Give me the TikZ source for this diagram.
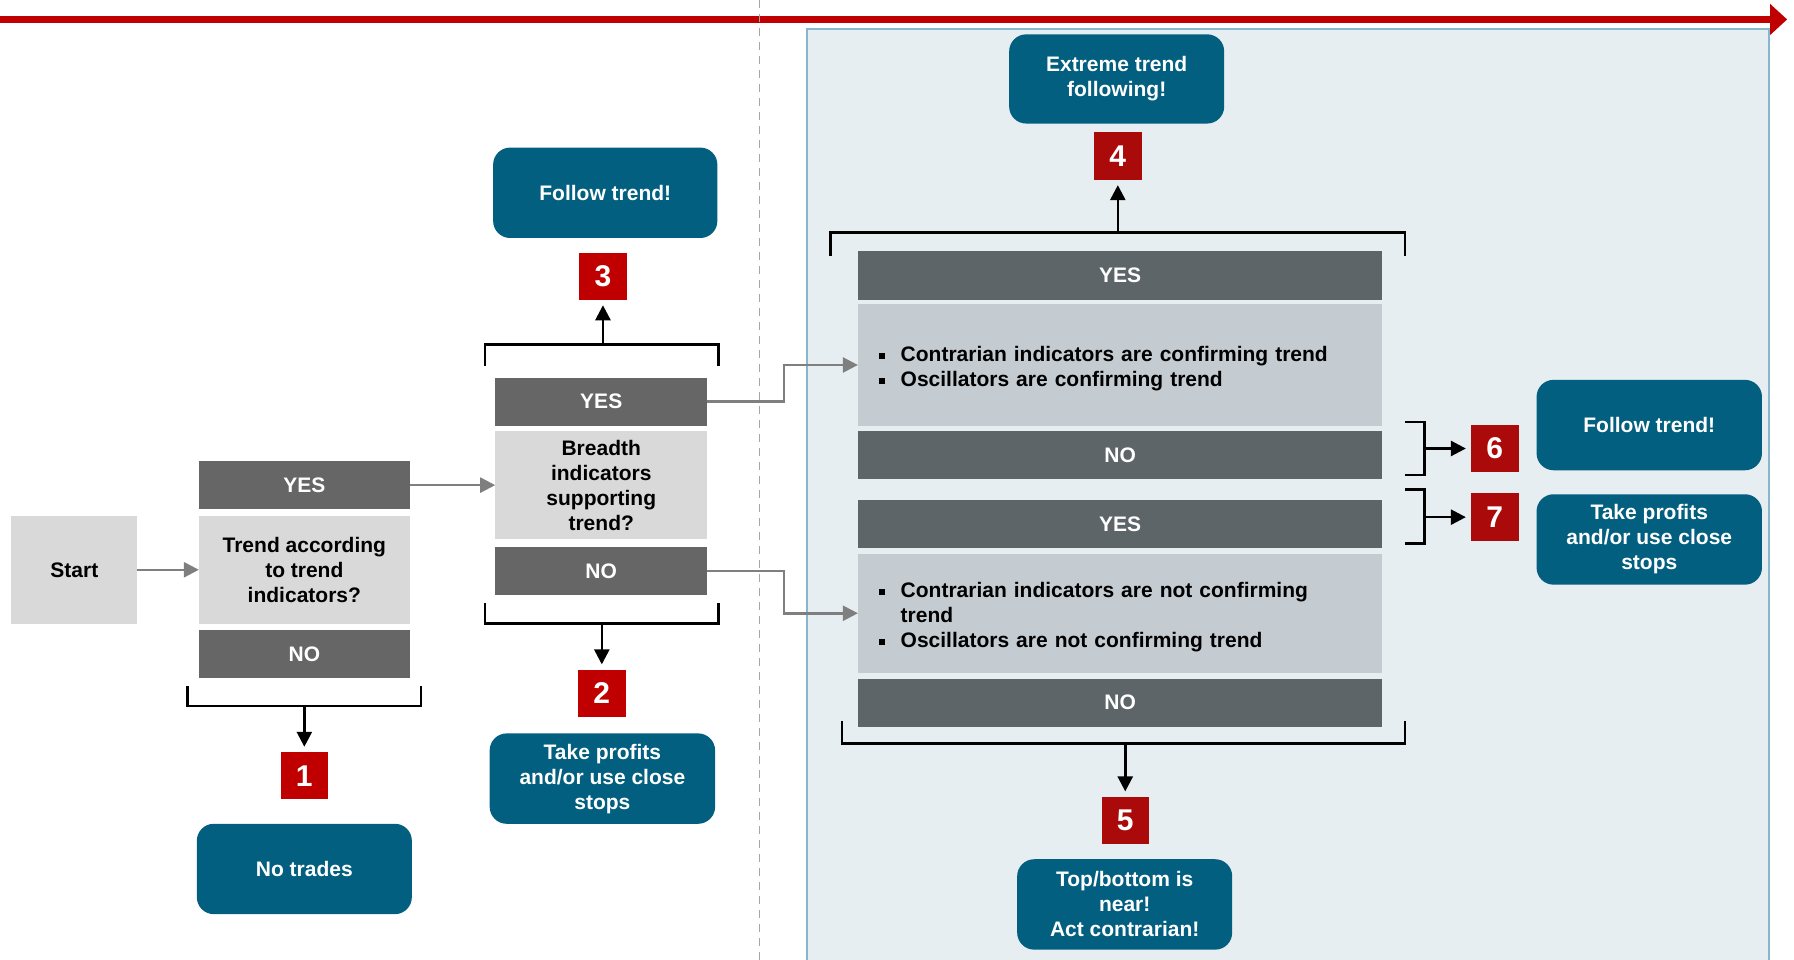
\documentclass[tikz,border=0pt]{standalone}
\usepackage{fontspec}
\setmainfont{Liberation Sans}
\usepackage{xcolor}
\usepackage{tikz}
\usetikzlibrary{arrows.meta}

\definecolor{bargray}{HTML}{666666}
\definecolor{rbargray}{HTML}{5E6569}
\definecolor{qgray}{HTML}{D9D9D9}
\definecolor{listgray}{HTML}{C4CBD1}
\definecolor{actblue}{HTML}{035F7F}
\definecolor{numred}{HTML}{C00000}
\definecolor{rnumred}{HTML}{AB0A0A}
\definecolor{panelfill}{HTML}{E6EEF2}
\definecolor{panelline}{HTML}{86B7CC}
\definecolor{linkgray}{HTML}{7F7F7F}
\definecolor{divgray}{HTML}{A6A6A6}

\newcommand\sqb{\rule[2.5pt]{6pt}{6pt}}

\tikzset{
  bar/.style={fill=bargray, text=white, minimum height=48pt, inner sep=0pt},
  rbar/.style={bar, fill=rbargray, minimum width=524pt},
  quest/.style={fill=qgray, text=black, minimum height=107.5pt, inner sep=0pt, align=center},
  blist/.style={fill=listgray, text=black, minimum width=524pt, text width=482.8pt, inner xsep=20.6pt, inner ysep=0pt, align=left},
  action/.style={fill=actblue, text=white, rounded corners=17pt, minimum width=215pt, minimum height=90.4pt, inner sep=3pt, align=center},
  num/.style={fill=numred, text=white, minimum width=47.5pt, minimum height=47.5pt, inner sep=0pt, font=\fontsize{30}{30}\selectfont\bfseries},
  rnum/.style={num, fill=rnumred},
  brk/.style={draw=black, line width=2.6pt},
  blk/.style={draw=black, line width=2.6pt, -{Triangle[length=15pt,width=15pt]}, shorten >=5pt},
  link/.style={draw=linkgray, line width=2.5pt, -{Triangle[length=15pt,width=15pt]}}
}

\begin{document}
\begin{tikzpicture}[x=1.144pt,y=-1.144pt,font=\fontsize{21}{25}\selectfont\bfseries]
  \useasboundingbox (0,0) rectangle (1568,839);
  \clip (0,0) rectangle (1568,839);

  % phases
  \draw[fill=panelfill, draw=panelline, line width=1.8pt] (705,25) rectangle (1546,860);
  \draw[draw=numred, line width=6.5pt, -{Triangle[length=17pt,width=30pt]}] (0,17) -- (1562,17);
  \draw[draw=divgray, line width=1.5pt, dash pattern=on 8pt off 6pt] (664,0) -- (664,839);

  % first question
  \node[fill=qgray, minimum width=125.8pt, minimum height=107.5pt, inner sep=0pt] (start) at (65,498) {Start};
  \node[bar, minimum width=210.5pt] (yes1) at (266,424) {YES};
  \node[quest, minimum width=210.5pt] (q1) at (266,498) {Trend according\\to trend\\indicators?};
  \node[bar, minimum width=210.5pt] (no1) at (266,572) {NO};

  % second question
  \node[bar, minimum width=211.6pt] (yes2) at (525.5,351) {YES};
  \node[quest, minimum width=211.6pt] (q2) at (525.5,424) {Breadth\\indicators\\supporting\\trend?};
  \node[bar, minimum width=211.6pt] (no2) at (525.5,499) {NO};

  % third question
  \node[rbar, minimum height=49.2pt] (yes3) at (979,240.5) {YES};
  \node[blist, minimum height=121.3pt] (list1) at (979,319) {%
    \begin{tabular}{@{}l@{\hspace{16pt}}l@{}}
      \rule{0pt}{26.5pt}\sqb & Contrarian indicators are confirming trend\\
      \sqb & Oscillators are confirming trend
    \end{tabular}};
  \node[rbar] (no3) at (979,398) {NO};
  \node[rbar] (yes4) at (979,458) {YES};
  \node[blist, minimum height=119pt] (list2) at (979,536) {%
    \begin{tabular}{@{}l@{\hspace{16pt}}l@{}}
      \rule{0pt}{26.5pt}\sqb & Contrarian indicators are not confirming\\
           & trend\\
      \sqb & Oscillators are not confirming trend
    \end{tabular}};
  \node[rbar] (no4) at (979,614) {NO};

  % outcomes
  \node[action, minimum width=224.2pt] (follow1) at (529,168.5) {Follow trend!};
  \node[action, minimum width=225.4pt] (profit1) at (526.5,680.5) {Take profits\\and/or use close\\stops};
  \node[action] (notrade) at (266,759.5) {No trades};
  \node[action, minimum height=89.2pt] (extreme) at (976,69) {Extreme trend\\following!};
  \node[action] (topbot) at (983,790.5) {Top/bottom is\\near!\\Act contrarian!};
  \node[action, minimum width=225.4pt] (follow2) at (1441.5,371.5) {Follow trend!};
  \node[action, minimum width=225.4pt] (profit2) at (1441.5,471.5) {Take profits\\and/or use close\\stops};

  \node[num] (n1) at (266,678) {1};
  \node[num] (n2) at (526,606) {2};
  \node[num] (n3) at (527,241.5) {3};
  \node[rnum] (n4) at (977,136.5) {4};
  \node[rnum] (n5) at (983.5,717) {5};
  \node[rnum] (n6) at (1306.5,392) {6};
  \node[rnum] (n7) at (1306.5,452) {7};

  % brackets
  \draw[brk] (164,600) |- (368,617) -- (368,600);
  \draw[brk] (424,320) |- (628,301) -- (628,320);
  \draw[brk] (424,527) |- (628,545) -- (628,527);
  \draw[brk] (726,224) |- (1228,203) -- (1228,224);
  \draw[brk] (736,630) |- (1228,650) -- (1228,630);
  \draw[brk] (1228,369) -| (1245,415) -- (1228,415);
  \draw[brk] (1228,428) -| (1245,475) -- (1228,475);
  \coordinate (b1) at (266,617);
  \coordinate (b3) at (527,301);
  \coordinate (b2) at (526,545);
  \coordinate (b4) at (977,203);
  \coordinate (b5) at (983.5,650);
  \coordinate (b6) at (1245,392);
  \coordinate (b7) at (1245,452);

  \draw[blk] (b1) -- (n1);
  \draw[blk] (b2) -- (n2);
  \draw[blk] (b3) -- (n3);
  \draw[blk] (b4) -- (n4);
  \draw[blk] (b5) -- (n5);
  \draw[blk] (b6) -- (n6);
  \draw[blk] (b7) -- (n7);

  % flow
  \draw[link] (start) -- (q1);
  \draw[link] (yes1) -- (q2);
  \draw[link] (yes2.east) -- ++(67,0) |- (list1.west);
  \draw[link] (no2.east) -- ++(67,0) |- (list2.west);
\end{tikzpicture}
\end{document}
